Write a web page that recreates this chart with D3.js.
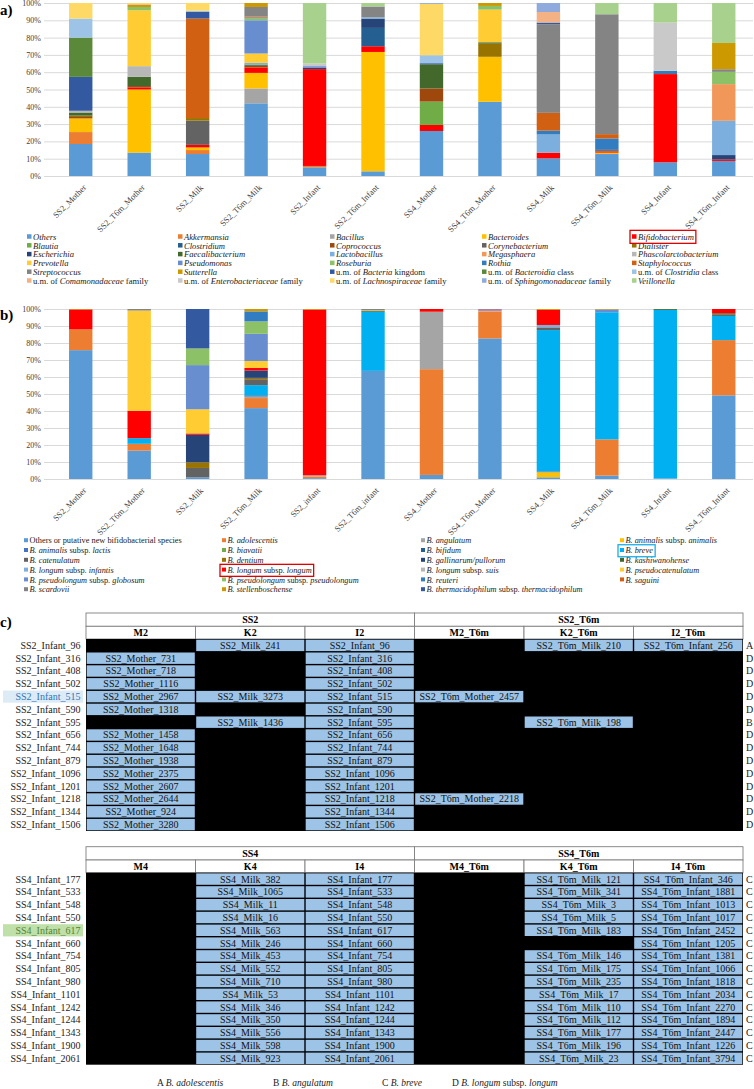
<!DOCTYPE html>
<html>
<head>
<meta charset="utf-8">
<script src="https://cdn.jsdelivr.net/npm/d3@7"></script>
<style>
body { margin: 0; background: #fff; }
svg { display: block; font-family: "Liberation Serif", "Times New Roman", serif; }
</style>
</head>
<body>
<svg id="fig" width="754" height="1089"></svg>
<script>
// ---------- data ----------
const samplesA = ["SS2_Mother", "SS2_T6m_Mother", "SS2_Milk", "SS2_T6m_Milk", "SS2_Infant", "SS2_T6m_Infant",
  "SS4_Mother", "SS4_T6m_Mother", "SS4_Milk", "SS4_T6m_Milk", "SS4_Infant", "SS4_T6m_Infant"];
const samplesB = ["SS2_Mother", "SS2_T6m_Mother", "SS2_Milk", "SS2_T6m_Milk", "SS2_infant", "SS2_T6m_infant",
  "SS4_Mother", "SS4_T6m_Mother", "SS4_Milk", "SS4_T6m_Milk", "SS4_Infant", "SS4_T6m_Infant"];

const genusKeys = ["Others", "Akkermansia", "Bacillus", "Bacteroides", "Bifidobacterium", "Blautia", "Clostridium",
  "Coprococcus", "Corynebacterium", "Dialister", "Escherichia", "Faecalibacterium", "Lactobacillus", "Megasphaera",
  "Phascolarctobacterium", "Prevotella", "Pseudomonas", "Roseburia", "Rothia", "Staphylococcus", "Streptococcus",
  "Sutterella", "Bacteria", "Bacteroidia", "Clostridia", "Comamonadaceae", "Enterobacteriaceae", "Lachnospiraceae",
  "Sphingomonadaceae", "Veillonella"];
const genusLabels = ["*Others*", "*Akkermansia*", "*Bacillus*", "*Bacteroides*", "*Bifidobacterium*", "*Blautia*",
  "*Clostridium*", "*Coprococcus*", "*Corynebacterium*", "*Dialister*", "*Escherichia*", "*Faecalibacterium*",
  "*Lactobacillus*", "*Megasphaera*", "*Phascolarctobacterium*", "*Prevotella*", "*Pseudomonas*", "*Roseburia*",
  "*Rothia*", "*Staphylococcus*", "*Streptococcus*", "*Sutterella*", "u.m. of *Bacteria* kingdom",
  "u.m. of *Bacteroidia* class", "u.m. of *Clostridia* class", "u.m. of *Comamonadaceae* family",
  "u.m. of *Enterobacteriaceae* family", "u.m. of *Lachnospiraceae* family", "u.m. of *Sphingomonadaceae* family",
  "*Veillonella*"];
const genusColors = ["#5B9BD5", "#ED7D31", "#A5A5A5", "#FFC000", "#FF0000", "#70AD47", "#255E91", "#9E480E",
  "#636363", "#997300", "#264478", "#43682B", "#7CAFDD", "#F1975A", "#B7B7B7", "#FFCD33", "#698ED0", "#8CC168",
  "#327DC2", "#D26012", "#848484", "#CC9A00", "#335AA1", "#5A8A39", "#9DC3E6", "#F4B183", "#C9C9C9", "#FFD966",
  "#8FAADC", "#A9D18E"];

// relative abundance (%) per sample, panel a
const genusAbundance = [
  { Others: 18.5, Akkermansia: 6.9, Bacteroides: 7.9, Coprococcus: 0.8, Dialister: 0.8, Faecalibacterium: 1.8, Phascolarctobacterium: 1.0, Bacteria: 19.6, Bacteroidia: 22.7, Clostridia: 11, Lachnospiraceae: 9 },
  { Others: 13.5, Bacteroides: 36.5, Bifidobacterium: 1.2, Coprococcus: 0.8, Faecalibacterium: 5.3, Phascolarctobacterium: 6.2, Prevotella: 32.3, Roseburia: 1.9, Sutterella: 1.3, Comamonadaceae: 0.5, Lachnospiraceae: 0.5 },
  { Others: 12.7, Akkermansia: 2.3, Bacteroides: 1.5, Bifidobacterium: 1.5, Corynebacterium: 14.0, Dialister: 1.5, Staphylococcus: 57.5, Bacteria: 3.8, Clostridia: 0.7, Lachnospiraceae: 4.5 },
  { Others: 42, Bacillus: 8.6, Bacteroides: 9, Bifidobacterium: 3.1, Coprococcus: 1, Faecalibacterium: 0.7, Lactobacillus: 1, Prevotella: 5.4, Pseudomonas: 19.2, Roseburia: 1.2, Rothia: 0.4, Staphylococcus: 0.6, Streptococcus: 5.5, Sutterella: 2.3 },
  { Others: 5, Akkermansia: 0.8, Bifidobacterium: 56, Escherichia: 0.7, Pseudomonas: 1.0, Enterobacteriaceae: 1.5, Veillonella: 35 },
  { Others: 2.7, Bacteroides: 69, Bifidobacterium: 3.3, Clostridium: 10.6, Escherichia: 5.4, Lactobacillus: 0.7, Streptococcus: 6.3, Veillonella: 2 },
  { Others: 26, Bifidobacterium: 3.5, Blautia: 13.5, Coprococcus: 7.6, Faecalibacterium: 14, Bacteria: 0.6, Clostridia: 4.6, Lachnospiraceae: 29.7, Sphingomonadaceae: 0.5 },
  { Others: 42.9, Bacteroides: 26, Dialister: 7.6, Faecalibacterium: 0.8, Prevotella: 18.9, Roseburia: 2.1, Sutterella: 1.7 },
  { Others: 10.2, Bifidobacterium: 3.3, Lactobacillus: 10.5, Rothia: 2.2, Staphylococcus: 10.3, Streptococcus: 51.2, Bacteria: 1, Comamonadaceae: 6.1, Sphingomonadaceae: 5.2 },
  { Others: 12.7, Bacteroides: 0.8, Bifidobacterium: 0.6, Coprococcus: 0.6, Escherichia: 0.7, Rothia: 6.3, Staphylococcus: 2.5, Streptococcus: 69.3, Veillonella: 6.5 },
  { Others: 7.9, Bifidobacterium: 51, Escherichia: 0.5, Rothia: 1.4, Enterobacteriaceae: 27.9, Veillonella: 11.3 },
  { Others: 8.7, Bifidobacterium: 0.9, Escherichia: 2.5, Lactobacillus: 19.8, Megasphaera: 21.2, Roseburia: 7.1, Streptococcus: 1.5, Sutterella: 15.2, Veillonella: 23.1 }
];

const speciesKeys = ["Others", "adolescentis", "angulatum", "animalis_animalis", "animalis_lactis", "biavatii",
  "bifidum", "breve", "catenulatum", "dentium", "gallinarum", "kashiwanohense", "longum_infantis", "longum_longum",
  "longum_suis", "pseudocatenulatum", "pseudolongum_globosum", "pseudolongum_pseudolongum", "reuteri", "saguini",
  "scardovii", "stellenboschense", "thermacidophilum"];
const speciesLabels = ["Others or putative new bifidobacterial species", "*B. adolescentis*", "*B. angulatum*",
  "*B. animalis* subsp. *animalis*", "*B. animalis* subsp. *lactis*", "*B. biavatii*", "*B. bifidum*", "*B. breve*",
  "*B. catenulatum*", "*B. dentium*", "*B. gallinarum/pullorum*", "*B. kashiwanohense*", "*B. longum* subsp. *infantis*",
  "*B. longum* subsp. *longum*", "*B. longum* subsp. *suis*", "*B. pseudocatenulatum*",
  "*B. pseudolongum* subsp. *globosum*", "*B. pseudolongum* subsp. *pseudolongum*", "*B. reuteri*", "*B. saguini*",
  "*B. scardovii*", "*B. stellenboschense*", "*B. thermacidophilum* subsp. *thermacidophilum*"];
const speciesColors = ["#5B9BD5", "#ED7D31", "#A5A5A5", "#FFC000", "#4472C4", "#70AD47", "#255E91", "#00B0F0",
  "#636363", "#997300", "#264478", "#43682B", "#7CAFDD", "#FF0000", "#B7B7B7", "#FFCD33", "#698ED0", "#8CC168",
  "#327DC2", "#D26012", "#848484", "#CC9A00", "#335AA1"];

// relative abundance (%) per sample, panel b
const speciesAbundance = [
  { Others: 75.8, adolescentis: 12.2, longum_longum: 11.7, stellenboschense: 0.3 },
  { Others: 16.7, adolescentis: 4, breve: 3.3, longum_longum: 16.1, pseudocatenulatum: 59, scardovii: 0.9 },
  { Others: 1, catenulatum: 5.5, dentium: 3.3, gallinarum: 16.2, longum_longum: 0.8, pseudocatenulatum: 14.2, pseudolongum_globosum: 26, pseudolongum_pseudolongum: 9.8, thermacidophilum: 23.2 },
  { Others: 41.7, adolescentis: 5.9, angulatum: 1.0, bifidum: 0.6, breve: 6.0, catenulatum: 3.5, dentium: 0.8, gallinarum: 4.3, longum_longum: 1.5, pseudocatenulatum: 4.1, pseudolongum_globosum: 16, pseudolongum_pseudolongum: 7.3, reuteri: 5.9, stellenboschense: 1.4 },
  { Others: 0.5, adolescentis: 1, angulatum: 0.7, longum_longum: 97.4, stellenboschense: 0.4 },
  { Others: 63.6, breve: 34.8, kashiwanohense: 0.5, pseudocatenulatum: 0.3, scardovii: 0.8 },
  { Others: 2.4, adolescentis: 62.2, angulatum: 33.8, longum_longum: 1.6 },
  { Others: 82.7, adolescentis: 15.7, angulatum: 0.8, longum_longum: 0.5, pseudolongum_globosum: 0.3 },
  { Others: 1, animalis_animalis: 3, animalis_lactis: 0.5, breve: 83.1, catenulatum: 1.6, longum_infantis: 1.4, longum_longum: 8.9, stellenboschense: 0.5 },
  { Others: 2, adolescentis: 21.3, breve: 74.8, pseudolongum_globosum: 1.6, stellenboschense: 0.3 },
  { Others: 0.3, breve: 99.2, kashiwanohense: 0.5 },
  { Others: 49.2, adolescentis: 32.5, breve: 14.2, catenulatum: 0.8, kashiwanohense: 0.8, longum_longum: 2.5 }
];

const yTicks = [0, 0.1, 0.2, 0.3, 0.4, 0.5, 0.6, 0.7, 0.8, 0.9, 1];

// ---- table c) ----
const ss2Groups = ["SS2", "SS2_T6m"];
const ss2Cols = ["M2", "K2", "I2", "M2_T6m", "K2_T6m", "I2_T6m"];
const ss2Rows = ["SS2_Infant_96", "SS2_Infant_316", "SS2_Infant_408", "SS2_Infant_502", "SS2_Infant_515",
  "SS2_Infant_590", "SS2_Infant_595", "SS2_Infant_656", "SS2_Infant_744", "SS2_Infant_879", "SS2_Infant_1096",
  "SS2_Infant_1201", "SS2_Infant_1218", "SS2_Infant_1344", "SS2_Infant_1506"];
const ss2M2 = [null, "SS2_Mother_731", "SS2_Mother_718", "SS2_Mother_1116", "SS2_Mother_2967", "SS2_Mother_1318",
  null, "SS2_Mother_1458", "SS2_Mother_1648", "SS2_Mother_1938", "SS2_Mother_2375", "SS2_Mother_2607",
  "SS2_Mother_2644", "SS2_Mother_924", "SS2_Mother_3280"];
const ss2K2 = ["SS2_Milk_241", null, null, null, "SS2_Milk_3273", null, "SS2_Milk_1436", null, null, null, null,
  null, null, null, null];
const ss2I2 = ss2Rows.slice();
const ss2M2T6m = [null, null, null, null, "SS2_T6m_Mother_2457", null, null, null, null, null, null, null,
  "SS2_T6m_Mother_2218", null, null];
const ss2K2T6m = ["SS2_T6m_Milk_210", null, null, null, null, null, "SS2_T6m_Milk_198", null, null, null, null,
  null, null, null, null];
const ss2I2T6m = ["SS2_T6m_Infant_256", null, null, null, null, null, null, null, null, null, null, null, null,
  null, null];
const ss2Species = ["A", "D", "D", "D", "D", "D", "B", "D", "D", "D", "D", "D", "D", "D", "D"];

const ss4Groups = ["SS4", "SS4_T6m"];
const ss4Cols = ["M4", "K4", "I4", "M4_T6m", "K4_T6m", "I4_T6m"];
const ss4Rows = ["SS4_Infant_177", "SS4_Infant_533", "SS4_Infant_548", "SS4_Infant_550", "SS4_Infant_617",
  "SS4_Infant_660", "SS4_Infant_754", "SS4_Infant_805", "SS4_Infant_980", "SS4_Infant_1101", "SS4_Infant_1242",
  "SS4_Infant_1244", "SS4_Infant_1343", "SS4_Infant_1900", "SS4_Infant_2061"];
const ss4M4 = ss4Rows.map(() => null);
const ss4K4 = ["SS4_Milk_382", "SS4_Milk_1065", "SS4_Milk_11", "SS4_Milk_16", "SS4_Milk_563", "SS4_Milk_246",
  "SS4_Milk_453", "SS4_Milk_552", "SS4_Milk_710", "SS4_Milk_53", "SS4_Milk_346", "SS4_Milk_350", "SS4_Milk_556",
  "SS4_Milk_598", "SS4_Milk_923"];
const ss4I4 = ss4Rows.slice();
const ss4M4T6m = ss4Rows.map(() => null);
const ss4K4T6m = ["SS4_T6m_Milk_121", "SS4_T6m_Milk_341", "SS4_T6m_Milk_3", "SS4_T6m_Milk_5", "SS4_T6m_Milk_183",
  null, "SS4_T6m_Milk_146", "SS4_T6m_Milk_175", "SS4_T6m_Milk_235", "SS4_T6m_Milk_17", "SS4_T6m_Milk_110",
  "SS4_T6m_Milk_112", "SS4_T6m_Milk_177", "SS4_T6m_Milk_196", "SS4_T6m_Milk_23"];
const ss4I4T6m = ["SS4_T6m_Infant_346", "SS4_T6m_Infant_1881", "SS4_T6m_Infant_1013", "SS4_T6m_Infant_1017",
  "SS4_T6m_Infant_2452", "SS4_T6m_Infant_1205", "SS4_T6m_Infant_1381", "SS4_T6m_Infant_1066", "SS4_T6m_Infant_1818",
  "SS4_T6m_Infant_2034", "SS4_T6m_Infant_2270", "SS4_T6m_Infant_1894", "SS4_T6m_Infant_2447", "SS4_T6m_Infant_1226",
  "SS4_T6m_Infant_3794"];
const ss4Species = ss4Rows.map(() => "C");

const speciesKey = ["A  *B. adolescentis*", "B  *B. angulatum*", "C  *B. breve*", "D  *B. longum* subsp.  *longum*"];

// ---------- drawing ----------
const svg = d3.select("#fig");

// text with *italic* segments
function rich(text, str) {
  str.split("*").forEach((part, i) => {
    if (part === "") return;
    text.append("tspan").attr("font-style", i % 2 ? "italic" : "normal").text(part);
  });
  return text;
}

function drawStack(top, bottom, samples, keys, colors, rows) {
  const g = svg.append("g");
  const x = d3.scaleBand().domain(samples).range([51.5, 753]).paddingInner(0.6).paddingOuter(0.3);
  const y = d3.scaleLinear().domain([0, 1]).range([bottom, top]);

  const yAxis = g.append("g").attr("transform", "translate(44,0)")
    .call(d3.axisLeft(y).tickValues(yTicks).tickFormat(d3.format(".0%")).tickSize(-(753 - 44)).tickPadding(3));
  yAxis.select(".domain").remove();
  yAxis.selectAll("line").attr("stroke", "#d9d9d9").attr("stroke-width", 1);
  yAxis.selectAll("text").attr("font-size", 8).attr("fill", "#404040")
    .attr("font-family", "Liberation Serif, serif");

  const data = rows.map((r, i) => Object.assign({ sample: samples[i] }, r));
  const series = d3.stack().keys(keys).value((d, k) => d[k] || 0).offset(d3.stackOffsetExpand)(data);

  g.selectAll("g.series").data(series).join("g").attr("class", "series")
    .attr("fill", (d, i) => colors[i])
    .selectAll("rect").data(d => d.filter(p => p[1] - p[0] > 0)).join("rect")
    .attr("x", d => x(d.data.sample))
    .attr("width", x.bandwidth())
    .attr("y", d => y(d[1]))
    .attr("height", d => y(d[0]) - y(d[1]));

  const xAxis = g.append("g").attr("transform", `translate(0,${bottom})`)
    .call(d3.axisBottom(x).tickSize(0));
  xAxis.select(".domain").remove();
  xAxis.selectAll("text")
    .attr("font-size", 8.5).attr("fill", "#404040").attr("font-family", "Liberation Serif, serif")
    .attr("text-anchor", "end").attr("x", 0).attr("y", 0).attr("dy", "0.35em")
    .attr("transform", "translate(4,10) rotate(-45)");
  return g;
}

function drawLegend(labels, colors, ncol, colX, y0, step, fs, sq) {
  const g = svg.append("g");
  const items = [];
  labels.forEach((lab, i) => {
    const r = Math.floor(i / ncol), c = i % ncol;
    const item = g.append("g").attr("transform", `translate(${colX[c]},${y0 + r * step})`);
    item.append("rect").attr("x", 0).attr("y", -sq / 2 - 0.5).attr("width", sq).attr("height", sq)
      .attr("fill", colors[i]);
    rich(item.append("text").attr("x", sq + 1.5).attr("dy", "0.33em").attr("font-size", fs).attr("fill", "#222"), lab);
    items.push(item);
  });
  return items;
}

function boxItem(item, color, tx, ty) {
  const b = item.node().getBBox();
  svg.append("rect")
    .attr("x", tx + b.x - 2).attr("y", ty + b.y - 1.5)
    .attr("width", b.width + 4).attr("height", b.height + 3)
    .attr("fill", "none").attr("stroke", color).attr("stroke-width", 1.3);
}

// panel labels
[["a)", 15], ["b)", 320], ["c)", 627]].forEach(([t, yy]) => {
  svg.append("text").attr("x", 0).attr("y", yy).attr("font-size", 15).attr("font-weight", "bold").text(t);
});

// panel a
drawStack(3, 176, samplesA, genusKeys, genusColors, genusAbundance);
const colA = [27, 178, 330, 482, 632];
const itemsA = drawLegend(genusLabels, genusColors, 5, colA, 237, 8.8, 8.6, 4.5);
boxItem(itemsA[4], "#E00000", colA[4], 237);

// panel b
drawStack(309, 479, samplesB, speciesKeys, speciesColors, speciesAbundance);
const colB = [24, 222, 421, 620];
const itemsB = drawLegend(speciesLabels, speciesColors, 4, colB, 540.7, 9.8, 8.3, 4);
boxItem(itemsB[13], "#E00000", colB[13 % 4], 540.7 + Math.floor(13 / 4) * 9.8);
boxItem(itemsB[7], "#1AAEE8", colB[7 % 4], 540.7 + Math.floor(7 / 4) * 9.8);

// table c
const tx0 = 86, cw = 109.5, h1 = 13.3, h2 = 12.7, rh = 12.8;
function drawTable(top, groups, cols, rows, cells, letters, hl) {
  const g = svg.append("g").attr("font-size", 10);
  // group header
  groups.forEach((gr, i) => {
    g.append("rect").attr("x", tx0 + i * 3 * cw).attr("y", top).attr("width", 3 * cw).attr("height", h1)
      .attr("fill", "#fff").attr("stroke", "#7f7f7f").attr("stroke-width", 0.9);
    g.append("text").attr("x", tx0 + i * 3 * cw + 1.5 * cw).attr("y", top + h1 / 2 + 3.3)
      .attr("text-anchor", "middle").attr("font-weight", "bold").text(gr);
  });
  cols.forEach((c, i) => {
    g.append("rect").attr("x", tx0 + i * cw).attr("y", top + h1).attr("width", cw).attr("height", h2)
      .attr("fill", "#fff").attr("stroke", "#7f7f7f").attr("stroke-width", 0.9);
    g.append("text").attr("x", tx0 + i * cw + cw / 2).attr("y", top + h1 + h2 / 2 + 3.3)
      .attr("text-anchor", "middle").attr("font-weight", "bold").text(c);
  });
  const y0 = top + h1 + h2;
  g.append("rect").attr("x", tx0).attr("y", y0).attr("width", 6 * cw).attr("height", rows.length * rh)
    .attr("fill", "#000");
  cells.forEach((col, ci) => {
    col.forEach((v, ri) => {
      if (!v) return;
      g.append("rect").attr("x", tx0 + ci * cw + 0.7).attr("y", y0 + ri * rh + 0.7)
        .attr("width", cw - 1.4).attr("height", rh - 1.4).attr("fill", "#9DC3E6");
      g.append("text").attr("x", tx0 + ci * cw + cw / 2).attr("y", y0 + ri * rh + rh / 2 + 3.4)
        .attr("text-anchor", "middle").attr("fill", "#111").text(v);
    });
  });
  rows.forEach((r, ri) => {
    const yy = y0 + ri * rh;
    let fill = "#222";
    if (hl && hl.row === ri) {
      g.append("rect").attr("x", 3).attr("y", yy + 0.3).attr("width", 80).attr("height", rh - 0.6).attr("fill", hl.bg);
      fill = hl.fg;
    }
    g.append("text").attr("x", 80.5).attr("y", yy + rh / 2 + 3.4).attr("text-anchor", "end").attr("fill", fill).text(r);
    g.append("text").attr("x", 746).attr("y", yy + rh / 2 + 3.4).attr("fill", "#222").text(letters[ri]);
  });
}

drawTable(613, ss2Groups, ss2Cols, ss2Rows, [ss2M2, ss2K2, ss2I2, ss2M2T6m, ss2K2T6m, ss2I2T6m], ss2Species,
  { row: 4, bg: "#DDEBF7", fg: "#2E75B6" });
drawTable(846.7, ss4Groups, ss4Cols, ss4Rows, [ss4M4, ss4K4, ss4I4, ss4M4T6m, ss4K4T6m, ss4I4T6m], ss4Species,
  { row: 4, bg: "#BFE0A8", fg: "#548235" });

// species key under the tables
const keyX = [157, 273, 382, 452];
speciesKey.forEach((k, i) => {
  rich(svg.append("text").attr("x", keyX[i]).attr("y", 1086).attr("font-size", 9.5).attr("fill", "#222"), k);
});
</script>
</body>
</html>
